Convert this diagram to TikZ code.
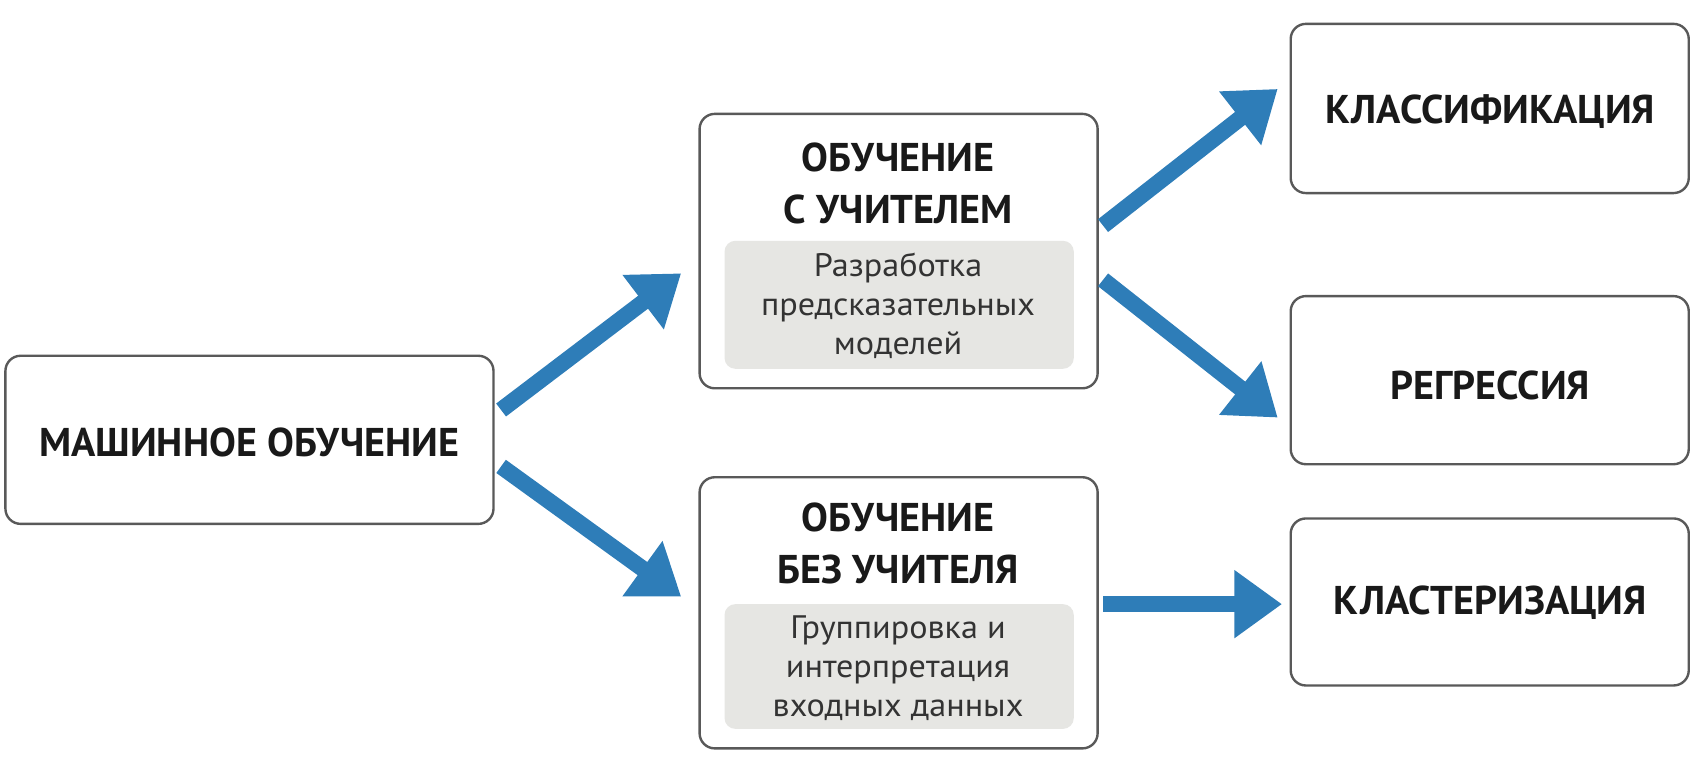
\documentclass[tikz,border=0pt]{standalone}
\usepackage{fontspec}
\setmainfont{PT Sans}
\usetikzlibrary{arrows.meta}
\definecolor{arr}{HTML}{2E7DB8}
\definecolor{gbox}{HTML}{E6E6E3}
\begin{document}
\begin{tikzpicture}[x=1pt,y=-1pt,
  box/.style={draw=black!65,line width=2.2pt,rounded corners=14pt,fill=white},
  gray/.style={fill=gbox,rounded corners=10pt},
  big/.style={font=\fontsize{37}{48}\selectfont\bfseries,text=black!90,align=center},
  small/.style={font=\fontsize{30}{36}\selectfont\addfontfeature{FakeStretch=1.05},text=black!80,align=center},
  ar/.style={draw=arr,line width=15pt,-{Triangle[length=44pt,width=60pt]}}]
\useasboundingbox (0,0) rectangle (1560,713);
\draw[box] (5,328) rectangle (455,483);
\node[big] (ml) at (230,408) {МАШИННОЕ ОБУЧЕНИЕ};
\draw[box] (645,105) rectangle (1012,358);
\fill[gray] (668,222) rectangle (990,340);
\node[big] (sup) at (828,169) {ОБУЧЕНИЕ\\С УЧИТЕЛЕМ};
\node[small] (supt) at (828,282) {Разработка\\предсказательных\\моделей};
\draw[box] (645,440) rectangle (1012,690);
\fill[gray] (668,557) rectangle (990,672);
\node[big] (uns) at (828,501) {ОБУЧЕНИЕ\\БЕЗ УЧИТЕЛЯ};
\node[small] (unst) at (828,616) {Группировка и\\интерпретация\\входных данных};
\draw[box] (1190,22) rectangle (1557,178);
\node[big] (kl) at (1374,103) {КЛАССИФИКАЦИЯ};
\draw[box] (1190,273) rectangle (1557,428);
\node[big] (rg) at (1374,355) {РЕГРЕССИЯ};
\draw[box] (1190,478) rectangle (1557,632);
\node[big] (ks) at (1374,556) {КЛАСТЕРИЗАЦИЯ};
\coordinate (a1) at (462,378); \coordinate (b1) at (628,252);
\coordinate (a2) at (462,430); \coordinate (b2) at (628,550);
\coordinate (a3) at (1017,208); \coordinate (b3) at (1178,82);
\coordinate (a4) at (1017,258); \coordinate (b4) at (1178,385);
\coordinate (a5) at (1017,557); \coordinate (b5) at (1182,557);
\draw[ar] (a1)--(b1);
\draw[ar] (a2)--(b2);
\draw[ar] (a3)--(b3);
\draw[ar] (a4)--(b4);
\draw[ar] (a5)--(b5);
\end{tikzpicture}
\end{document}
